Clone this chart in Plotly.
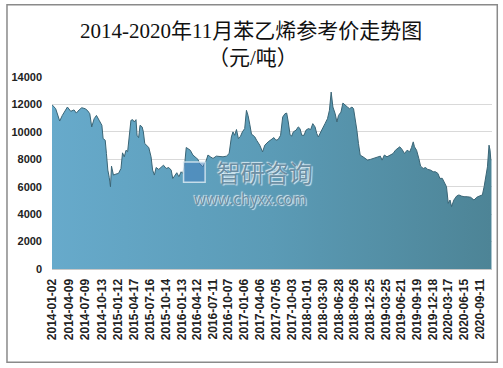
import plotly.graph_objects as go

dates = [
    "2014-01-02", "2014-01-23", "2014-02-15", "2014-03-02", "2014-03-31", "2014-04-19",
    "2014-05-08", "2014-05-21", "2014-06-06", "2014-06-21", "2014-07-10", "2014-07-23",
    "2014-08-06", "2014-08-17", "2014-08-31", "2014-09-13", "2014-09-28", "2014-10-14",
    "2014-10-21", "2014-11-02", "2014-11-09", "2014-11-17", "2014-11-25", "2014-12-02",
    "2014-12-08", "2014-12-19", "2015-01-02", "2015-01-17", "2015-01-31", "2015-02-09",
    "2015-02-19", "2015-03-01", "2015-03-10", "2015-03-20", "2015-03-29", "2015-04-08",
    "2015-04-17", "2015-04-27", "2015-05-03", "2015-05-12", "2015-05-20", "2015-06-01",
    "2015-06-08", "2015-06-16", "2015-06-27", "2015-07-09", "2015-07-22", "2015-07-31",
    "2015-08-10", "2015-08-20", "2015-09-04", "2015-09-18", "2015-10-01", "2015-10-16",
    "2015-10-31", "2015-11-14", "2015-11-23", "2015-12-07", "2015-12-16", "2015-12-28",
    "2016-01-10", "2016-01-19", "2016-01-29", "2016-02-08", "2016-02-17", "2016-03-02",
    "2016-03-17", "2016-04-01", "2016-04-15", "2016-04-24", "2016-05-13", "2016-06-02",
    "2016-06-11", "2016-06-25", "2016-07-10", "2016-07-29", "2016-08-17", "2016-09-05",
    "2016-09-25", "2016-10-10", "2016-10-23", "2016-11-01", "2016-11-11", "2016-11-21",
    "2016-12-02", "2016-12-14", "2016-12-25", "2017-01-07", "2017-01-17", "2017-01-26",
    "2017-02-05", "2017-02-15", "2017-02-24", "2017-03-06", "2017-03-16", "2017-04-03",
    "2017-04-19", "2017-05-02", "2017-05-21", "2017-06-10", "2017-06-23", "2017-07-04",
    "2017-07-17", "2017-07-31", "2017-08-12", "2017-08-25", "2017-09-04", "2017-09-13",
    "2017-09-23", "2017-10-02", "2017-10-12", "2017-10-27", "2017-11-09", "2017-11-19",
    "2017-11-29", "2017-12-12", "2017-12-23", "2018-01-06", "2018-01-19", "2018-01-31",
    "2018-02-13", "2018-02-23", "2018-03-04", "2018-03-18", "2018-03-29", "2018-04-11",
    "2018-04-25", "2018-05-06", "2018-05-16", "2018-05-26", "2018-06-08", "2018-06-18",
    "2018-06-27", "2018-07-11", "2018-07-22", "2018-08-04", "2018-08-17", "2018-08-29",
    "2018-09-12", "2018-09-21", "2018-10-01", "2018-10-10", "2018-10-19", "2018-10-29",
    "2018-11-14", "2018-11-27", "2018-12-10", "2018-12-26", "2019-01-14", "2019-02-02",
    "2019-02-21", "2019-03-03", "2019-03-16", "2019-03-31", "2019-04-19", "2019-05-05",
    "2019-05-18", "2019-05-28", "2019-06-12", "2019-06-25", "2019-07-09", "2019-07-24",
    "2019-08-08", "2019-08-18", "2019-08-28", "2019-09-04", "2019-09-16", "2019-09-29",
    "2019-10-09", "2019-10-24", "2019-11-06", "2019-11-19", "2019-12-05", "2019-12-20",
    "2020-01-02", "2020-01-16", "2020-01-27", "2020-02-10", "2020-02-23", "2020-03-05",
    "2020-03-15", "2020-03-25", "2020-04-03", "2020-04-16", "2020-05-02", "2020-05-15",
    "2020-05-29", "2020-06-13", "2020-07-02", "2020-07-21", "2020-08-09", "2020-08-25",
    "2020-09-09", "2020-09-26", "2020-10-06", "2020-10-15", "2020-10-25", "2020-11-03",
    "2020-11-09", "2020-11-13", "2020-11-17",
]

prices = [
    11980, 11690, 10790, 11200, 11810, 11500,
    11600, 11370, 11600, 11760, 11690, 11570,
    11320, 10360, 10960, 11200, 10850, 10480,
    9510, 9390, 8420, 7210, 6680, 6000,
    7500, 6850, 6920, 6970, 7330, 8470,
    8180, 8660, 8550, 9750, 10840, 10890,
    10720, 10890, 9750, 9580, 10480, 10360,
    10000, 9150, 9030, 8860, 8180, 7210,
    6850, 7400, 7260, 7450, 7570, 7330,
    7400, 7210, 6600, 6850, 7020, 6730,
    7090, 6970, 7500, 8860, 8790, 8660,
    8310, 8130, 7990, 7700, 7450, 7940,
    8310, 8180, 8060, 8230, 8180, 8180,
    8230, 8420, 9630, 10000, 9750, 10170,
    9510, 9680, 10000, 10240, 11570, 11200,
    10550, 9820, 9750, 9630, 9390, 9030,
    8540, 9030, 9270, 9440, 9580, 9390,
    9440, 9750, 11080, 11320, 11370, 10720,
    9820, 9680, 10000, 10120, 10360, 10240,
    9750, 9750, 10120, 10240, 10170, 10600,
    10360, 9870, 9630, 10000, 10240, 10600,
    10960, 11570, 12900, 11810, 11320, 10720,
    11200, 11440, 12100, 11930, 11810, 11690,
    11810, 11690, 10960, 10120, 9150, 8300,
    8180, 8060, 7940, 7990, 8060, 8130,
    8230, 7940, 8310, 8180, 8310, 8420,
    8660, 8790, 8910, 8720, 8420, 8660,
    8540, 8860, 9270, 8910, 8660, 8060,
    7500, 7330, 7400, 7260, 7210, 7090,
    7090, 6970, 6610, 6610, 6240, 6000,
    4790, 5030, 4550, 5030, 5320, 5400,
    5320, 5270, 5270, 5230, 5030, 5230,
    5320, 5400, 6000, 6730, 7450, 9030,
    8660, 7990, 7940,
]

tick_labels = [
    "2014-01-02", "2014-04-09", "2014-07-09", "2014-10-13", "2015-01-12", "2015-04-17",
    "2015-07-16", "2015-10-14", "2016-01-13", "2016-04-12", "2016-07-11", "2016-10-07",
    "2017-01-06", "2017-04-06", "2017-07-05", "2017-10-03", "2018-01-01", "2018-03-30",
    "2018-06-28", "2018-09-26", "2018-12-25", "2019-03-25", "2019-06-21", "2019-09-19",
    "2019-12-18", "2020-03-17", "2020-06-15", "2020-09-11",
]

title_line1 = "2014-2020年11月苯乙烯参考价走势图"
title_line2 = "（元/吨）"

fig = go.Figure()
fig.add_trace(go.Scatter(
    x=dates, y=prices, mode="lines",
    line=dict(color="#3a6576", width=1),
    fill="tozeroy",
    fillgradient=dict(type="horizontal",
                      colorscale=[[0, "#67aacb"], [0.5, "#5b9bb6"], [1, "#4d8496"]]),
    hoverinfo="skip",
))

title_font = dict(family="Liberation Serif, Noto Sans CJK SC", size=21, color="#111")
wm_font = dict(family="Noto Sans CJK SC", color="rgba(95,132,154,0.9)",
               shadow="1px 1px 1px rgba(235,244,250,0.95), -1px -1px 1px rgba(235,244,250,0.95)")

fig.update_layout(
    width=503, height=368,
    margin=dict(l=52, r=11, t=77, b=99),
    paper_bgcolor="white", plot_bgcolor="white",
    showlegend=False,
    xaxis=dict(
        type="date", range=["2014-01-02", "2020-11-20"],
        tickmode="array", tickvals=tick_labels, ticktext=tick_labels,
        tickangle=-90, showgrid=False, showline=True, linecolor="#c8c8c8", linewidth=1,
        ticks="", ticklabelstandoff=4,
        tickfont=dict(family="Liberation Sans", size=12, color="#222", weight="bold"),
        fixedrange=True, automargin=False,
    ),
    yaxis=dict(
        range=[0, 14000], dtick=2000, tickformat="d",
        showgrid=True, gridcolor="#d9d9d9", gridwidth=1,
        zeroline=False, showline=False, ticks="",
        ticklabelstandoff=9,
        tickfont=dict(family="Liberation Sans", size=11, color="#222", weight="bold"),
        fixedrange=True, automargin=False,
    ),
    shapes=[
        dict(type="rect", xref="paper", yref="paper",
             x0=-0.1023, x1=1.012, y0=-0.486, y1=1.376,
             line=dict(color="#8a8a8a", width=1.5), fillcolor="rgba(0,0,0,0)", layer="above"),
        dict(type="rect", xref="paper", yref="paper",
             x0=0.299, x1=0.348, y0=0.452, y1=0.557,
             line=dict(color="rgba(225,238,245,0.8)", width=1.5),
             fillcolor="rgba(70,130,190,0.55)", layer="above"),
    ],
    annotations=[
        dict(text=title_line1, xref="paper", yref="paper", x=0.4514, y=1.241,
             showarrow=False, xanchor="center", yanchor="middle", font=title_font),
        dict(text=title_line2, xref="paper", yref="paper", x=0.457, y=1.101,
             showarrow=False, xanchor="center", yanchor="middle", font=title_font),
        dict(text="智研咨询", xref="paper", yref="paper", x=0.4844, y=0.51,
             showarrow=False, xanchor="center", yanchor="middle", borderpad=0,
             font=dict(size=24, **wm_font)),
        dict(text="www.chyxx.com", xref="paper", yref="paper", x=0.4514, y=0.3646,
             showarrow=False, xanchor="center", yanchor="middle", borderpad=0,
             font=dict(size=15, **wm_font)),
    ],
)

fig.write_html("out.html", config={"displayModeBar": False},
               post_script="document.body.style.margin='0';")
